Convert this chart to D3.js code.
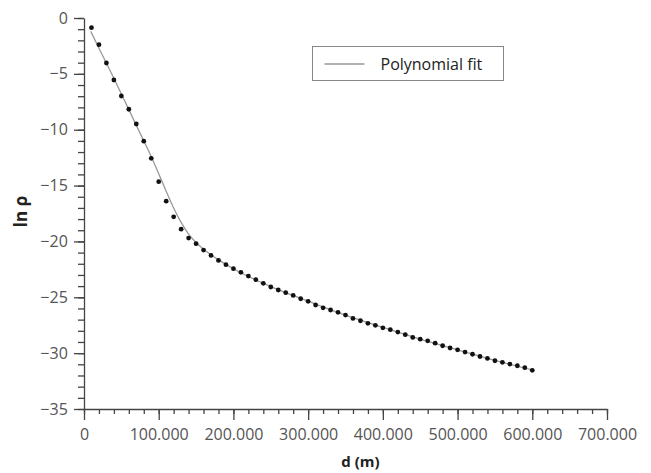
<!DOCTYPE html>
<html>
<head>
<meta charset="utf-8">
<script src="https://cdn.jsdelivr.net/npm/d3@7"></script>
<style>
  body { margin: 0; background: #fff; }
  text { font-family: "Open Sans", sans-serif; }
</style>
</head>
<body>
<div id="chart"></div>
<script>
// measured points (d in m, ln rho)
const distances = [10, 20, 30, 40, 50, 60, 70, 80, 90, 100, 110, 120, 130, 140, 150, 160, 170, 180, 190, 200,
    210, 220, 230, 240, 250, 260, 270, 280, 290, 300, 310, 320, 330, 340, 350, 360, 370, 380, 390, 400,
    410, 420, 430, 440, 450, 460, 470, 480, 490, 500, 510, 520, 530, 540, 550, 560, 570, 580, 590, 600];
const lnRho = [-0.87, -2.39, -4.03, -5.55, -6.98, -8.17, -9.49, -11.03, -12.56, -14.65, -16.4, -17.8, -18.9, -19.7, -20.2, -20.77, -21.25, -21.7, -22.08, -22.44,
    -22.77, -23.1, -23.42, -23.75, -24.08, -24.35, -24.59, -24.83, -25.13, -25.36, -25.69, -25.94, -26.14, -26.35, -26.59, -26.89, -27.1, -27.33, -27.51, -27.73,
    -27.9, -28.11, -28.35, -28.59, -28.75, -28.9, -29.11, -29.34, -29.54, -29.7, -29.9, -30.1, -30.3, -30.47, -30.68, -30.82, -30.98, -31.13, -31.3, -31.54];

// polynomial fit curve
const fitD = [9, 20, 30, 40, 50, 60, 70, 80, 90, 100, 110, 120, 130, 140, 150, 160, 170, 180, 200, 250, 300, 350, 400, 450, 500, 550, 600];
const fitLn = [-1.2, -2.7, -4.05, -5.4, -6.8, -8.2, -9.6, -11.0, -12.4, -13.95, -15.5, -17.0, -18.3, -19.35, -20.1, -20.7, -21.2, -21.65, -22.45, -24.05, -25.35, -26.6, -27.7, -28.75, -29.7, -30.65, -31.5];

const xTicks = [0, 100, 200, 300, 400, 500, 600, 700];
const yTicks = [0, -5, -10, -15, -20, -25, -30, -35];
const legendLabel = "Polynomial fit";

const margin = { top: 18, right: 44, bottom: 64, left: 84 };
const width = 651 - margin.left - margin.right;
const height = 473 - margin.top - margin.bottom;

const svg = d3.select("#chart")
    .append("svg")
    .attr("width", 651)
    .attr("height", 473)
    .append("g")
    .attr("transform", `translate(${margin.left},${margin.top})`);

const x = d3.scaleLinear().domain([0, 700]).range([0, width]);
const y = d3.scaleLinear().domain([-35, 0]).range([height, 0]);

const axisColor = "#444";

// minor ticks
svg.append("g")
    .attr("transform", `translate(0,${height})`)
    .call(d3.axisBottom(x).tickValues(d3.range(0, 701, 20)).tickSize(5).tickFormat(""))
    .call(g => g.select(".domain").remove());
svg.append("g")
    .call(d3.axisLeft(y).tickValues(d3.range(-35, 1, 1)).tickSize(6).tickFormat(""))
    .call(g => g.select(".domain").remove());

// major ticks
const xAxis = svg.append("g")
    .attr("transform", `translate(0,${height})`)
    .call(d3.axisBottom(x).tickValues(xTicks).tickSize(11).tickSizeOuter(0)
        .tickFormat(d => d === 0 ? "0" : d + ".000"));
const yAxis = svg.append("g")
    .call(d3.axisLeft(y).tickValues(yTicks).tickSize(10).tickSizeOuter(0));

svg.selectAll(".tick line, .domain").attr("stroke", axisColor).attr("stroke-width", 1.3);
xAxis.selectAll("text").attr("font-size", 16).attr("fill", "#555").attr("dy", "1.05em");
yAxis.selectAll("text").attr("font-size", 16).attr("fill", "#555").attr("dx", "-0.2em");

// fit line
svg.append("path")
    .datum(fitD.map((d, i) => [d, fitLn[i]]))
    .attr("fill", "none")
    .attr("stroke", "#999")
    .attr("stroke-width", 1.3)
    .attr("d", d3.line().x(d => x(d[0])).y(d => y(d[1])).curve(d3.curveMonotoneX));

// points
svg.selectAll("circle.pt")
    .data(distances.map((d, i) => [d, lnRho[i]]))
    .enter()
    .append("circle")
    .attr("class", "pt")
    .attr("cx", d => x(d[0]))
    .attr("cy", d => y(d[1]))
    .attr("r", 2.4)
    .attr("fill", "#111");

// axis titles
svg.append("text")
    .attr("x", x(370))
    .attr("y", height + 58)
    .attr("text-anchor", "middle")
    .attr("font-size", 15)
    .attr("font-weight", "bold")
    .attr("fill", "#222")
    .text("d (m)");

svg.append("text")
    .attr("transform", `translate(${-57},${height / 2 - 2}) rotate(-90)`)
    .attr("text-anchor", "middle")
    .attr("font-size", 17)
    .attr("font-weight", "bold")
    .attr("fill", "#222")
    .text("ln ρ");

// legend
const legend = svg.append("g").attr("transform", `translate(${312.5 - margin.left},${46.5 - margin.top})`);
legend.append("rect")
    .attr("width", 191)
    .attr("height", 34)
    .attr("fill", "#fff")
    .attr("stroke", "#888")
    .attr("stroke-width", 1);
legend.append("line")
    .attr("x1", 12).attr("x2", 52)
    .attr("y1", 17.5).attr("y2", 17.5)
    .attr("stroke", "#999")
    .attr("stroke-width", 1.3);
legend.append("text")
    .attr("x", 68)
    .attr("y", 23)
    .attr("font-size", 16)
    .attr("fill", "#222")
    .text(legendLabel);
</script>
</body>
</html>
